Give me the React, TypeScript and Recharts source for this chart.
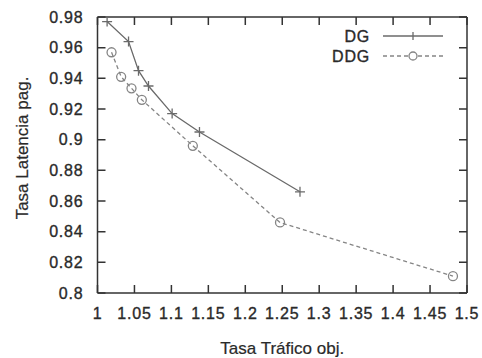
import React from 'react';
import { LineChart, Line, XAxis, YAxis, Legend, CartesianGrid } from 'recharts';

const dgX = [1.013, 1.042, 1.0555, 1.069, 1.101, 1.138, 1.274];
const dgY = [0.977, 0.964, 0.945, 0.935, 0.917, 0.905, 0.866];
const ddgX = [1.019, 1.032, 1.046, 1.06, 1.129, 1.247, 1.481];
const ddgY = [0.957, 0.941, 0.9335, 0.926, 0.896, 0.846, 0.811];
const xTicks = [1, 1.05, 1.1, 1.15, 1.2, 1.25, 1.3, 1.35, 1.4, 1.45, 1.5];
const yTicks = [0.8, 0.82, 0.84, 0.86, 0.88, 0.9, 0.92, 0.94, 0.96, 0.98];
const seriesNames = ['DG', 'DDG'];

const dgData = dgX.map((x, i) => ({ x, y: dgY[i] }));
const ddgData = ddgX.map((x, i) => ({ x, y: ddgY[i] }));

const X_DOMAIN: [number, number] = [1, 1.5];
const Y_DOMAIN: [number, number] = [0.8, 0.98];
const CHART_W = 482;
const CHART_H = 358;
const MARGIN = { top: 16, right: 14, bottom: 0, left: 0 };
const Y_AXIS_W = 97.5;
const X_AXIS_H = 65;
const PLOT_W = CHART_W - MARGIN.left - MARGIN.right - Y_AXIS_W - 1;
const PLOT_H = CHART_H - MARGIN.top - MARGIN.bottom - X_AXIS_H - 1;
const TICK_LEN = 8;

const FONT = '"Liberation Sans", Arial, sans-serif';
const AXIS = '#333';
const TXT = '#2a2a2a';
const DG_COLOR = '#6a6a6a';
const DDG_COLOR = '#858585';
const X_MARGIN = 15;
const Y_MARGIN = 14;

const fmt = (v: number) => String(parseFloat(v.toFixed(2)));

const textStyle = { fontFamily: FONT, fontSize: 16, fill: TXT, stroke: TXT, strokeWidth: 0.35, letterSpacing: 0.8 };

const BottomTick = (props: any) => {
  const { x, y, payload } = props;
  return <text x={x} y={y} dy="0.71em" textAnchor="middle" {...textStyle}>{fmt(payload.value)}</text>;
};

const LeftTick = (props: any) => {
  const { x, y, payload } = props;
  return <text x={x} y={y} dy="0.36em" textAnchor="end" {...textStyle}>{fmt(payload.value)}</text>;
};

const LegendContent = () => (
  <svg width={482} height={80} style={{ display: 'block', overflow: 'visible' }}>
    <text x={370} y={42} textAnchor="end" {...textStyle}>{seriesNames[0]}</text>
    <line x1={383} y1={36} x2={443} y2={36} stroke={DG_COLOR} strokeWidth={1.3} />
    <line x1={413} y1={32} x2={413} y2={40} stroke={DG_COLOR} strokeWidth={1.3} />
    <text x={370} y={62} textAnchor="end" {...textStyle}>{seriesNames[1]}</text>
    <line x1={383} y1={56} x2={443} y2={56} stroke={DDG_COLOR} strokeWidth={1.3} strokeDasharray="4 3" />
    <circle cx={413} cy={56} r={4} fill="#fff" stroke={DDG_COLOR} strokeWidth={1.3} />
  </svg>
);

const YLabel = () => {
  const cx = 22;
  const cy = 148;
  return (
    <text x={cx} y={cy} transform={`rotate(-90 ${cx} ${cy})`} textAnchor="middle" dominantBaseline="central"
      fontFamily={FONT} fontSize={17} fill={TXT} stroke={TXT} strokeWidth={0.2}>Tasa Latencia pag.</text>
  );
};

const PlusDot = (props: any) => {
  const { cx, cy } = props;
  if (cx == null || cy == null) return null;
  return (
    <g stroke={DG_COLOR} strokeWidth={1.3}>
      <line x1={cx - 5} y1={cy} x2={cx + 5} y2={cy} />
      <line x1={cx} y1={cy - 5} x2={cx} y2={cy + 5} />
    </g>
  );
};

const CircleDot = (props: any) => {
  const { cx, cy } = props;
  if (cx == null || cy == null) return null;
  return <circle cx={cx} cy={cy} r={4.5} fill="none" stroke={DDG_COLOR} strokeWidth={1.3} />;
};

export default function App() {
  return (
    <div style={{ position: 'absolute', left: 0, top: 0, background: '#fff' }}>
      <LineChart width={CHART_W} height={CHART_H} margin={MARGIN}>
        <CartesianGrid
          xAxisId="b" yAxisId="l" vertical={false} horizontal
          stroke={AXIS} strokeWidth={1.5}
          strokeDasharray={`${TICK_LEN} ${PLOT_W - 2 * TICK_LEN} ${TICK_LEN} 0`}
        />
        <CartesianGrid
          xAxisId="b" yAxisId="l" vertical horizontal={false}
          stroke={AXIS} strokeWidth={1.5}
          strokeDasharray={`${TICK_LEN} ${PLOT_H - 2 * TICK_LEN} ${TICK_LEN} 0`}
        />
        <XAxis
          xAxisId="b" dataKey="x" type="number" domain={X_DOMAIN} ticks={xTicks}
          orientation="bottom" height={X_AXIS_H} allowDataOverflow
          axisLine={{ stroke: AXIS, strokeWidth: 1.5 }} tickLine={false}
          tickSize={0} tickMargin={X_MARGIN} interval={0}
          tick={<BottomTick />}
          label={{ value: 'Tasa Tráfico obj.', position: 'insideBottom', offset: 4, fontFamily: FONT, fontSize: 17, fill: TXT, stroke: TXT, strokeWidth: 0.2 }}
        />
        <XAxis
          xAxisId="t" dataKey="x" type="number" domain={X_DOMAIN} ticks={xTicks}
          orientation="top" height={1} allowDataOverflow
          axisLine={{ stroke: AXIS, strokeWidth: 1.5 }} tickLine={false} tick={false}
        />
        <YAxis
          yAxisId="l" dataKey="y" type="number" domain={Y_DOMAIN} ticks={yTicks}
          orientation="left" width={Y_AXIS_W} allowDataOverflow
          axisLine={{ stroke: AXIS, strokeWidth: 1.5 }} tickLine={false}
          tickSize={0} tickMargin={Y_MARGIN} interval={0}
          tick={<LeftTick />}
          label={<YLabel />}
        />
        <YAxis
          yAxisId="r" dataKey="y" type="number" domain={Y_DOMAIN} ticks={yTicks}
          orientation="right" width={1} allowDataOverflow
          axisLine={{ stroke: AXIS, strokeWidth: 1.5 }} tickLine={false} tick={false}
        />
        <Legend content={<LegendContent />} wrapperStyle={{ position: 'absolute', top: 0, left: 0, width: 482, height: 0, overflow: 'visible' }} />
        <Line xAxisId="b" yAxisId="l" data={dgData} dataKey="y" name={seriesNames[0]} type="linear"
          stroke={DG_COLOR} strokeWidth={1.3} dot={<PlusDot />} activeDot={false} isAnimationActive={false} />
        <Line xAxisId="b" yAxisId="l" data={ddgData} dataKey="y" name={seriesNames[1]} type="linear"
          stroke={DDG_COLOR} strokeWidth={1.3} strokeDasharray="4 3" dot={<CircleDot />} activeDot={false} isAnimationActive={false} />
      </LineChart>
    </div>
  );
}
